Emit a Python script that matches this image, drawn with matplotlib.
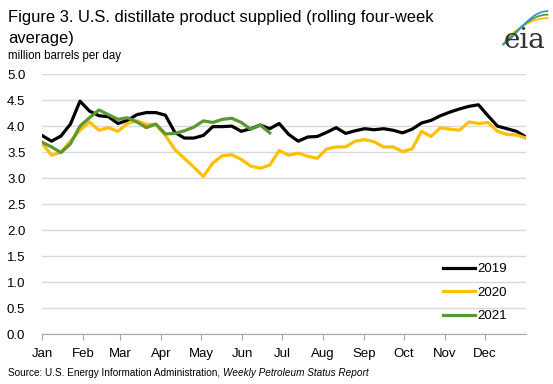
import numpy as np
import matplotlib.pyplot as plt

# weekly rolling four-week averages, million barrels per day
y2019 = [3.82, 3.71, 3.81, 4.04, 4.48, 4.29, 4.20, 4.18, 4.05, 4.11, 4.22, 4.26, 4.26, 4.21,
         3.88, 3.77, 3.77, 3.82, 3.99, 3.99, 4.00, 3.90, 3.95, 4.02, 3.95, 4.05, 3.84, 3.71,
         3.79, 3.80, 3.88, 3.97, 3.86, 3.91, 3.95, 3.93, 3.95, 3.92, 3.87, 3.94, 4.06, 4.11,
         4.20, 4.27, 4.33, 4.38, 4.41, 4.20, 4.00, 3.95, 3.90, 3.79]
y2020 = [3.67, 3.44, 3.50, 3.71, 3.92, 4.08, 3.92, 3.97, 3.90, 4.05, 4.10, 4.03, 4.03, 3.82,
         3.55, 3.38, 3.21, 3.03, 3.29, 3.43, 3.45, 3.36, 3.23, 3.19, 3.25, 3.53, 3.44, 3.48,
         3.42, 3.38, 3.56, 3.60, 3.60, 3.71, 3.74, 3.70, 3.60, 3.60, 3.51, 3.56, 3.90, 3.80,
         3.97, 3.94, 3.92, 4.08, 4.05, 4.07, 3.90, 3.84, 3.83, 3.77]
y2021 = [3.69, 3.60, 3.49, 3.66, 4.00, 4.16, 4.31, 4.22, 4.13, 4.16, 4.08, 3.97, 4.04, 3.85,
         3.86, 3.91, 3.98, 4.10, 4.07, 4.13, 4.15, 4.07, 3.94, 4.02, 3.87]

months = ['Jan', 'Feb', 'Mar', 'Apr', 'May', 'Jun', 'Jul', 'Aug', 'Sep', 'Oct', 'Nov', 'Dec']
month_start = [0, 31, 59, 90, 120, 151, 181, 212, 243, 273, 304, 334]
yticks = np.arange(0, 5.01, 0.5)

plt.rcParams['font.family'] = ['Liberation Sans', 'DejaVu Sans']

fig = plt.figure(figsize=(5.53, 3.84), dpi=100)
ax = fig.add_axes([0.076, 0.130, 0.875, 0.677])

nweeks = 52
ax.plot(np.arange(len(y2019)), y2019, color='#000000', lw=2.3, label='2019')
ax.plot(np.arange(len(y2020)), y2020, color='#FFC000', lw=2.3, label='2020')
ax.plot(np.arange(len(y2021)), y2021, color='#5B9833', lw=2.3, label='2021')

ax.set_xlim(0, nweeks - 1)
ax.set_ylim(0, 5)
ax.set_xticks([d / 365 * (nweeks - 1) for d in month_start])
ax.set_xticklabels(months, fontsize=9.5)
ax.set_yticks(yticks)
ax.set_yticklabels(['%.1f' % v for v in yticks], fontsize=9.5)
ax.tick_params(axis='y', length=0, pad=12)
ax.tick_params(axis='x', length=4, color='#a6a6a6', pad=6)
ax.yaxis.grid(True, color='#d9d9d9', lw=1)
ax.set_axisbelow(True)
for s in ['top', 'right', 'left']:
    ax.spines[s].set_visible(False)
ax.spines['bottom'].set_color('#a6a6a6')
ax.spines['bottom'].set_zorder(3)

ax.legend(loc='lower right', bbox_to_anchor=(0.985, 0.0), frameon=False, fontsize=9.5,
          handlelength=2.4, handletextpad=0.15, labelspacing=0.85)

fig.text(0.015, 0.955, 'Figure 3. U.S. distillate product supplied (rolling four-week',
         fontsize=11.9, va='center')
fig.text(0.015, 0.900, 'average)', fontsize=11.9, va='center')
fig.text(0.015, 0.855, 'million barrels per day', fontsize=8.3, va='center')
src = fig.text(0.015, 0.028, 'Source: U.S. Energy Information Administration, ', fontsize=7.2,
               va='center')
fig.canvas.draw()
bb = src.get_window_extent()
fig.text(bb.x1 / fig.bbox.width, 0.028, 'Weekly Petroleum Status Report', fontsize=7.2,
         va='center', style='italic')

# eia logo
lax = fig.add_axes([0.895, 0.88, 0.1, 0.1])
t = np.linspace(0, 1, 30)
for c, k in [('#FFC000', 0.0), ('#5B9833', 1.0), ('#2E9AD6', 2.0)]:
    lax.plot(0.15 + 0.8 * t, 0.05 + (0.75 + 0.1 * k) * np.sin(t * np.pi / 2) ** (0.8 + 0.25 * k),
             color=c, lw=1.3)
lax.set_xlim(0, 1)
lax.set_ylim(0, 1.1)
lax.axis('off')
fig.text(0.948, 0.895, 'eia', fontsize=20, family='DejaVu Serif', color='#333333',
         ha='center', va='center')

fig.savefig('out.png', dpi=100)
